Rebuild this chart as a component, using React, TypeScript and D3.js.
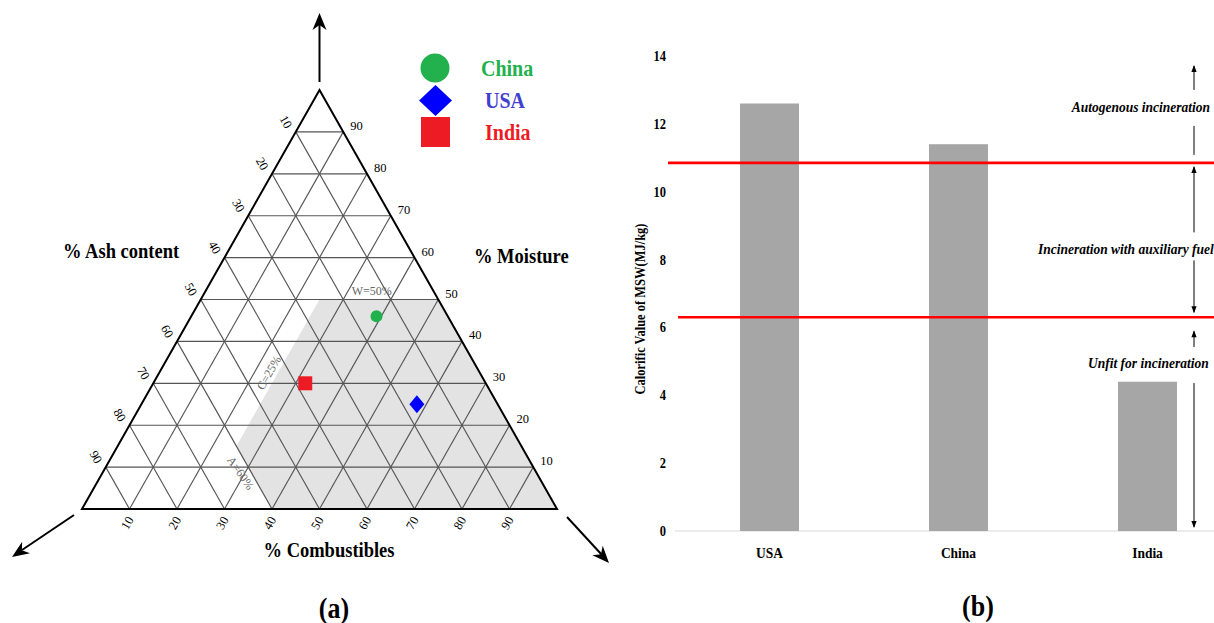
import React from "react";
import * as d3 from "d3";

// ---------- Data: panel (a) ternary diagram ----------
const countries = ["China", "USA", "India"];
const moisture = [46, 25, 30]; // % W
const combustibles = [39, 58, 32]; // % C
const ash = [15, 17, 38]; // % A
const countryColors = ["#22b14c", "#0000ff", "#ed1c24"];
const legendTextColors = ["#22b14c", "#3f3fd0", "#ed1c24"];
const ternaryTicks = [10, 20, 30, 40, 50, 60, 70, 80, 90];
// Tanner limits of the shaded (combustible) zone
const limitMoisture = 50;
const limitCombustibles = 25;
const limitAsh = 60;

// ---------- Data: panel (b) bar chart ----------
const barCategories = ["USA", "China", "India"];
const calorificValues = [12.6, 11.4, 4.4];
const thresholds = [10.85, 6.3];
const yTicks = [0, 2, 4, 6, 8, 10, 12, 14];
const zoneLabels = ["Autogenous incineration", "Incineration with auxiliary fuel", "Unfit for incineration"];

const FONT = "'Liberation Serif', 'Times New Roman', Times, serif";
const SY = 1.15; // vertical stretch of the reference's lettering

function T(props: any) {
  const { x, y, rot, children, ...rest } = props;
  return (
    <text transform={`translate(${x},${y})${rot ? ` rotate(${rot})` : ""} scale(1,${SY})`} {...rest}>
      {children}
    </text>
  );
}

export default function App() {
  const W = 1214;
  const H = 623;

  // ternary geometry
  const xT = d3.scaleLinear().domain([0, 100]).range([82, 557]);
  const yT = d3.scaleLinear().domain([0, 100]).range([509, 90]);
  const pt = (c: number, w: number): [number, number] => [xT(c + w / 2), yT(w)];
  const line = d3.line();

  const shaded: [number, number][] = [
    pt(100 - limitAsh, 0),
    pt(limitCombustibles, 100 - limitAsh - limitCombustibles),
    pt(limitCombustibles, limitMoisture),
    pt(100 - limitMoisture, limitMoisture),
    pt(100, 0),
  ];

  const gridLines: [number, number][][] = [];
  ternaryTicks.forEach((t) => {
    gridLines.push([pt(0, t), pt(100 - t, t)]); // constant moisture
    gridLines.push([pt(t, 0), pt(t, 100 - t)]); // constant combustibles
    gridLines.push([pt(100 - t, 0), pt(0, 100 - t)]); // constant ash
  });

  const triangle: [number, number][] = [pt(0, 0), pt(100, 0), pt(0, 100)];

  // bar chart scales
  const yB = d3.scaleLinear().domain([0, 14]).range([531, 56]);
  const xB = d3.scaleBand<string>().domain(barCategories).range([675, 1242]).paddingInner(0.688).paddingOuter(0.344);

  const arrowHead = (x: number, tipY: number, dir: number, w = 2.6, l = 7) =>
    `M${x},${tipY} L${x - w},${tipY + dir * l} L${x + w},${tipY + dir * l} Z`;

  const bigHead = (tx: number, ty: number, fx: number, fy: number, len = 17, half = 7) => {
    const ang = Math.atan2(ty - fy, tx - fx);
    const bx = tx - len * Math.cos(ang);
    const by = ty - len * Math.sin(ang);
    const px = -Math.sin(ang) * half;
    const py = Math.cos(ang) * half;
    const nx = tx - len * 0.7 * Math.cos(ang);
    const ny = ty - len * 0.7 * Math.sin(ang);
    return `M${tx},${ty} L${bx + px},${by + py} L${nx},${ny} L${bx - px},${by - py} Z`;
  };

  const apex = pt(0, 100);
  const bl = pt(0, 0);
  const br = pt(100, 0);

  // zone arrows layout
  const ax = 1194;
  const labelAt = [12.5, 8.3, 4.95];
  const labelX = [1210, 1038, 1088];
  const upperY = yB(thresholds[0]);
  const lowerY = yB(thresholds[1]);

  const pW = pt(36, limitMoisture);
  const pC = pt(limitCombustibles, 32.5);
  const pA = pt(100 - limitAsh - 8.6, 8.6);

  const legendY = [68, 100.5, 132];

  return (
    <svg width={W} height={H} style={{ position: "absolute", left: 0, top: 0, background: "#fff", fontFamily: FONT }}>
      {/* ---------------- Panel (a) ---------------- */}
      <path d={line(shaded) + "Z"} fill="#e3e3e3" />
      {gridLines.map((g, i) => (
        <path key={i} d={line(g) || ""} stroke="#555" strokeWidth={1.15} fill="none" />
      ))}
      <path d={line(triangle) + "Z"} stroke="#000" strokeWidth={2} fill="none" />

      {/* zone labels */}
      <text x={pW[0]} y={pW[1] - 5} fontSize={12} fill="#666" textAnchor="middle">W=50%</text>
      <text transform={`translate(${pC[0] - 9},${pC[1]}) rotate(-60)`} fontSize={12} fill="#666" textAnchor="middle" dominantBaseline="central">C=25%</text>
      <text transform={`translate(${pA[0] - 11},${pA[1]}) rotate(55)`} fontSize={12} fill="#666" textAnchor="middle" dominantBaseline="central">A=60%</text>

      {/* tick labels */}
      {ternaryTicks.map((t) => {
        const [lx, ly] = pt(0, 100 - t);
        return (
          <text key={"a" + t} transform={`translate(${lx - 10},${ly - 10}) rotate(60)`} fontSize={12.5} textAnchor="middle" dominantBaseline="central">{t}</text>
        );
      })}
      {ternaryTicks.map((t) => {
        const [rx, ry] = pt(100 - t, t);
        return (
          <text key={"w" + t} x={rx + 7} y={ry - 6} fontSize={12.5} dominantBaseline="central">{t}</text>
        );
      })}
      {ternaryTicks.map((t) => {
        const [bx, by] = pt(t, 0);
        return (
          <text key={"c" + t} transform={`translate(${bx - 2},${by + 14}) rotate(-60)`} fontSize={12.5} textAnchor="middle" dominantBaseline="central">{t}</text>
        );
      })}

      {/* axis titles */}
      <T x={63} y={258} fontSize={18.5} fontWeight="bold">% Ash content</T>
      <T x={474} y={263} fontSize={18.5} fontWeight="bold">% Moisture</T>
      <T x={329} y={557} fontSize={18.5} fontWeight="bold" textAnchor="middle">% Combustibles</T>

      {/* arrows */}
      <line x1={apex[0]} y1={apex[1] - 8} x2={apex[0]} y2={24} stroke="#000" strokeWidth={2} />
      <path d={bigHead(apex[0], 13, apex[0], 60)} fill="#000" />
      <line x1={bl[0] - 8} y1={bl[1] + 6} x2={22} y2={550} stroke="#000" strokeWidth={2} />
      <path d={bigHead(12, 557, bl[0] - 8, bl[1] + 6)} fill="#000" />
      <line x1={br[0] + 10} y1={br[1] + 8} x2={602} y2={555} stroke="#000" strokeWidth={2} />
      <path d={bigHead(609, 563, br[0] + 10, br[1] + 8)} fill="#000" />

      {/* data points */}
      {countries.map((name, i) => {
        const [x, y] = pt(combustibles[i], moisture[i]);
        const col = countryColors[i];
        if (name === "China") return <circle key={name} cx={x} cy={y} r={6} fill={col} />;
        if (name === "USA")
          return <path key={name} d={`M${x},${y - 9} L${x + 7.5},${y} L${x},${y + 9} L${x - 7.5},${y} Z`} fill={col} />;
        return <rect key={name} x={x - 7} y={y - 7} width={14} height={14} fill={col} />;
      })}

      {/* legend */}
      {countries.map((name, i) => {
        const y = legendY[i];
        const col = countryColors[i];
        let mark;
        if (name === "China") mark = <circle cx={435} cy={y} r={14.5} fill={col} />;
        else if (name === "USA")
          mark = <path d={`M435.5,${y - 15.5} L452,${y} L435.5,${y + 15.5} L419,${y} Z`} fill={col} />;
        else mark = <rect x={421} y={y - 15} width={29} height={30} fill={col} />;
        return (
          <g key={"lg" + name}>
            {mark}
            <T x={name === "China" ? 481 : 485} y={y + 7.5} fontSize={20} fontWeight="bold" fill={legendTextColors[i]}>{name}</T>
          </g>
        );
      })}

      <T x={334} y={618} fontSize={26} fontWeight="bold" textAnchor="middle">(a)</T>

      {/* ---------------- Panel (b) ---------------- */}
      <line x1={675} x2={1214} y1={yB(0)} y2={yB(0)} stroke="#d9d9d9" strokeWidth={1} />
      {barCategories.map((c, i) => (
        <rect key={c} x={xB(c)} y={yB(calorificValues[i])} width={xB.bandwidth()} height={yB(0) - yB(calorificValues[i])} fill="#a6a6a6" />
      ))}
      {yTicks.map((t) => (
        <T key={"yt" + t} x={666} y={yB(t) + 5} fontSize={12.5} fontWeight="bold" textAnchor="end">{t}</T>
      ))}
      {barCategories.map((c) => (
        <T key={"xl" + c} x={(xB(c) || 0) + xB.bandwidth() / 2} y={558} fontSize={13.5} fontWeight="bold" textAnchor="middle">{c}</T>
      ))}
      <text transform={`translate(640,309) rotate(-90) scale(1,1.1)`} fontSize={12.5} fontWeight="bold" textAnchor="middle" dominantBaseline="central">Calorific Value of MSW(MJ/kg)</text>

      <line x1={668} x2={1214} y1={upperY} y2={upperY} stroke="#ff0000" strokeWidth={2.6} />
      <line x1={678} x2={1214} y1={lowerY} y2={lowerY} stroke="#ff0000" strokeWidth={2.6} />

      {/* zone annotations */}
      {zoneLabels.map((lab, i) => (
        <T key={lab} x={labelX[i]} y={yB(labelAt[i]) + 5} fontSize={13.5} fontWeight="bold" fontStyle="italic" textAnchor={i === 0 ? "end" : "start"}>{lab}</T>
      ))}
      {/* autogenous arrow */}
      <line x1={ax} x2={ax} y1={yB(14) + 10} y2={yB(labelAt[0]) - 17} stroke="#000" strokeWidth={1} />
      <path d={arrowHead(ax, yB(14) + 9, 1)} fill="#000" />
      <line x1={ax} x2={ax} y1={yB(labelAt[0]) + 19} y2={upperY - 8} stroke="#000" strokeWidth={1} />
      {/* auxiliary arrow */}
      <line x1={ax} x2={ax} y1={upperY + 4} y2={yB(labelAt[1]) - 17} stroke="#000" strokeWidth={1} />
      <path d={arrowHead(ax, upperY + 3, 1)} fill="#000" />
      <line x1={ax} x2={ax} y1={yB(labelAt[1]) + 11} y2={lowerY - 5} stroke="#000" strokeWidth={1} />
      <path d={arrowHead(ax, lowerY - 4, -1)} fill="#000" />
      {/* unfit arrow */}
      <line x1={ax} x2={ax} y1={lowerY + 14} y2={yB(labelAt[2]) - 16} stroke="#000" strokeWidth={1} />
      <path d={arrowHead(ax, lowerY + 13, 1)} fill="#000" />
      <line x1={ax} x2={ax} y1={yB(labelAt[2]) + 20} y2={yB(0) - 4} stroke="#000" strokeWidth={1} />
      <path d={arrowHead(ax, yB(0) - 3, -1)} fill="#000" />

      <T x={978} y={616} fontSize={26} fontWeight="bold" textAnchor="middle">(b)</T>
    </svg>
  );
}
